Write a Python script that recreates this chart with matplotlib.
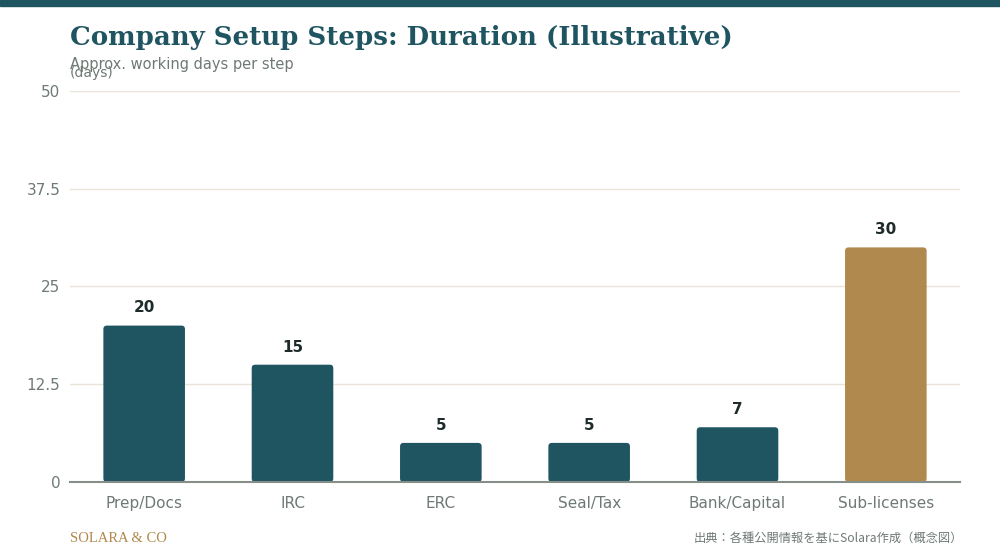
import matplotlib.pyplot as plt
from matplotlib.patches import FancyBboxPatch

# data
steps = ["Prep/Docs", "IRC", "ERC", "Seal/Tax", "Bank/Capital", "Sub-licenses"]
days = [20, 15, 5, 5, 7, 30]
highlight = [False, False, False, False, False, True]
yticks = [0, 12.5, 25, 37.5, 50]
ytick_labels = ["0", "12.5", "25", "37.5", "50"]

teal = "#1f5461"
gold = "#b0894e"
gray = "#6f7a74"

plt.rcParams['font.family'] = ['DejaVu Sans', 'Noto Sans CJK JP']

fig = plt.figure(figsize=(10, 5.6), dpi=100)
ax = fig.add_axes([0.07, 0.1393, 0.89, 0.6982])

# top band
fig.patches.append(plt.Rectangle((0, 0.989), 1, 0.011, transform=fig.transFigure,
                                 color=teal, zorder=0))

width = 0.55
# data units per pixel in x and y, for round corners
xpp = len(steps) / 890.0
ypp = 50 / 391.0
for i, (v, h) in enumerate(zip(days, highlight)):
    c = gold if h else teal
    p = FancyBboxPatch((i - width / 2, 0), width, v,
                       boxstyle="round,pad=0,rounding_size=%f" % (3.5 * xpp),
                       mutation_aspect=ypp / xpp,
                       fc=c, ec="none", zorder=3)
    ax.add_patch(p)
    ax.text(i, v + 1.3, str(v), ha="center", va="bottom", fontsize=11,
            fontweight="bold", color="#1e2b2b", zorder=4)

ax.set_xlim(-0.5, len(steps) - 0.5)
ax.set_ylim(0, 50)
ax.set_xticks(range(len(steps)))
ax.set_xticklabels(steps, fontsize=11, color=gray)
ax.set_yticks(yticks)
ax.set_yticklabels(ytick_labels, fontsize=11, color=gray)
ax.tick_params(length=0, pad=7)
ax.tick_params(axis="x", pad=10)
ax.grid(axis="y", color="#e9e3d8", linewidth=1, zorder=0)
ax.set_axisbelow(True)
for s in ["top", "right", "left"]:
    ax.spines[s].set_visible(False)
ax.spines["bottom"].set_color("#858f87")
ax.spines["bottom"].set_linewidth(1.5)
ax.spines["bottom"].set_zorder(5)

fig.text(0.07, 0.92, "Company Setup Steps: Duration (Illustrative)", family="DejaVu Serif",
         fontweight="bold", fontsize=18.7, color=teal, va="baseline")
fig.text(0.07, 0.877, "Approx. working days per step", fontsize=10.5, color=gray, va="baseline")
fig.text(0.07, 0.863, "(days)", fontsize=10, color=gray, va="baseline")

fig.text(0.07, 0.032, "SOLARA & CO", family="Liberation Serif", fontsize=10.5, color=gold,
         va="baseline")
fig.text(0.963, 0.032, "出典：各種公開情報を基にSolara作成（概念図）", fontsize=8.8, color=gray,
         ha="right", va="baseline", family=["Noto Sans CJK JP", "DejaVu Sans"])

fig.savefig("out.png", dpi=100, facecolor="white")
